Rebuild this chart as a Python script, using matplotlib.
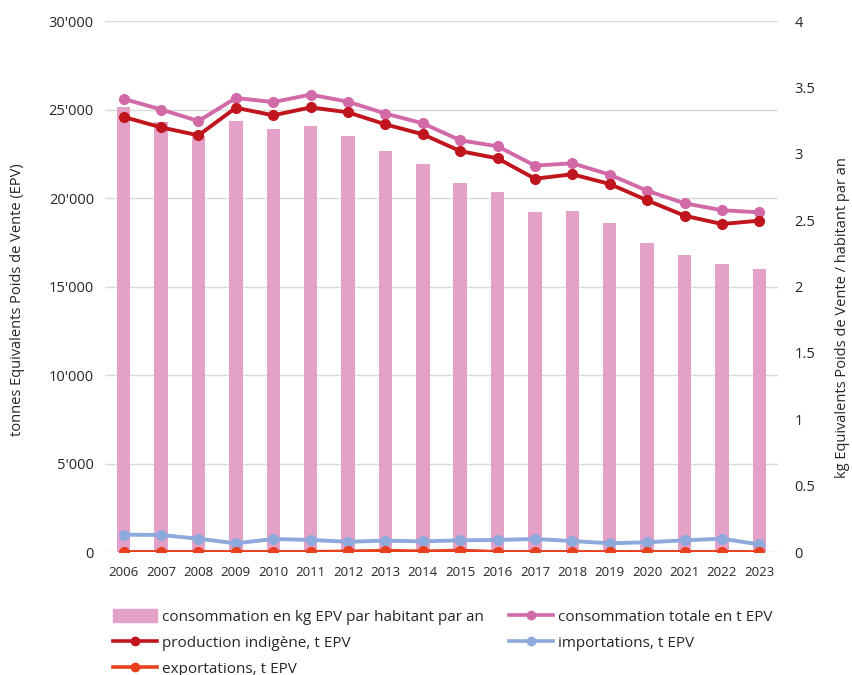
import matplotlib
matplotlib.use("Agg")
import matplotlib.pyplot as plt
from matplotlib.ticker import FuncFormatter
from matplotlib.transforms import blended_transform_factory
from matplotlib.lines import Line2D
from matplotlib.patches import Patch
import numpy as np

plt.rcParams['font.family'] = ['Open Sans', 'DejaVu Sans']

years = [str(y) for y in range(2006, 2024)]
conso_kg_hab = [3.35, 3.24, 3.13, 3.25, 3.19, 3.21, 3.13, 3.02, 2.92, 2.78,
                2.71, 2.56, 2.57, 2.48, 2.33, 2.24, 2.17, 2.13]
conso_totale = [25600, 25000, 24350, 25650, 25420, 25840, 25440, 24770, 24220, 23260,
                22920, 21830, 21960, 21320, 20410, 19700, 19310, 19190]
production = [24580, 23990, 23540, 25100, 24670, 25120, 24840, 24160, 23600, 22650,
              22240, 21090, 21340, 20790, 19870, 19000, 18530, 18720]
importations = [980, 960, 750, 490, 735, 680, 580, 640, 600, 660,
                680, 735, 620, 490, 550, 660, 750, 430]
exportations = [0, 0, 0, 0, 0, 0, 30, 70, 30, 80,
                0, 0, 0, 0, 0, 0, 0, 0]

left_ticks = [0, 5000, 10000, 15000, 20000, 25000, 30000]
right_ticks = [0, 0.5, 1, 1.5, 2, 2.5, 3, 3.5, 4]

c_bar = '#E4A1C8'
c_tot = '#D26AA7'
c_prod = '#C0151C'
c_imp = '#8EA9DB'
c_exp = '#E8401E'
txt = '#262626'
grid_c = '#D9D9D9'

fig = plt.figure(figsize=(8.52, 6.75), dpi=100)
ax = fig.add_axes([105/852, 1-552/675, (778-105)/852, (552-21)/675])
ax2 = ax.twinx()

x = np.arange(len(years))

# bars on the lower (right-scale) axes
ax2.bar(x, conso_kg_hab, width=0.36, color=c_bar, zorder=2)
ax2.set_ylim(0, 4)
ax2.set_yticks(right_ticks)
ax2.set_yticklabels([f"{t:g}" for t in right_ticks])

# put bars axes below the lines axes
ax.set_zorder(ax2.get_zorder() + 1)
ax.patch.set_visible(False)

# gridlines at left-axis ticks, drawn behind bars
tr = blended_transform_factory(ax2.transAxes, ax.transData)
ax.set_ylim(0, 30000)
for v in left_ticks:
    ax2.add_line(Line2D([0, 1], [v, v], transform=tr, color=grid_c, lw=1.0, zorder=1))

lw = 2.8
ms = 7
ax.plot(x, conso_totale, color=c_tot, lw=lw, marker='o', ms=ms, zorder=3)
ax.plot(x, production, color=c_prod, lw=lw, marker='o', ms=ms, zorder=4)
ax.plot(x, importations, color=c_imp, lw=lw, marker='o', ms=ms, zorder=3)
ax.plot(x, exportations, color=c_exp, lw=lw, marker='o', ms=ms, zorder=4)

ax.set_xlim(-0.5, len(years) - 0.5)
ax.set_xticks(x)
ax.set_xticklabels(years)
ax.set_yticks(left_ticks)
ax.yaxis.set_major_formatter(FuncFormatter(lambda v, p: "0" if v == 0 else f"{int(v/1000)}'000"))

for a in (ax, ax2):
    for s in a.spines.values():
        s.set_visible(False)
    a.tick_params(length=0, colors=txt)
ax.tick_params(axis='y', labelsize=10.5, pad=8)
ax2.tick_params(axis='y', labelsize=10.5, pad=12)
ax.tick_params(axis='x', labelsize=9.5, pad=10)

fig.text(18/852, 1-300/675, "tonnes Equivalents Poids de Vente (EPV)", rotation=90,
         ha='center', va='center', fontsize=10.5, color=txt)
fig.text(842/852, 1-318/675, "kg Equivalents Poids de Vente / habitant par an", rotation=90,
         ha='center', va='center', fontsize=10.5, color=txt)

lw_leg = 2.6
ms_leg = 6
handles = [
    Patch(color=c_bar),
    Line2D([], [], color=c_prod, lw=lw_leg, marker='o', ms=ms_leg),
    Line2D([], [], color=c_exp, lw=lw_leg, marker='o', ms=ms_leg),
    Line2D([], [], color=c_tot, lw=lw_leg, marker='o', ms=ms_leg),
    Line2D([], [], color=c_imp, lw=lw_leg, marker='o', ms=ms_leg),
]
labels = [
    "consommation en kg EPV par habitant par an",
    "production indigène, t EPV",
    "exportations, t EPV",
    "consommation totale en t EPV",
    "importations, t EPV",
]
leg = fig.legend(handles, labels, ncol=2, loc='upper left',
                 bbox_to_anchor=(113/852, 1-609/675), frameon=False,
                 fontsize=11, handlelength=2.9, handletextpad=0.33,
                 columnspacing=1.6, labelspacing=0.68, borderaxespad=0, borderpad=0,
                 labelcolor=txt, handleheight=0.9)

fig.savefig("out.png", dpi=100)
